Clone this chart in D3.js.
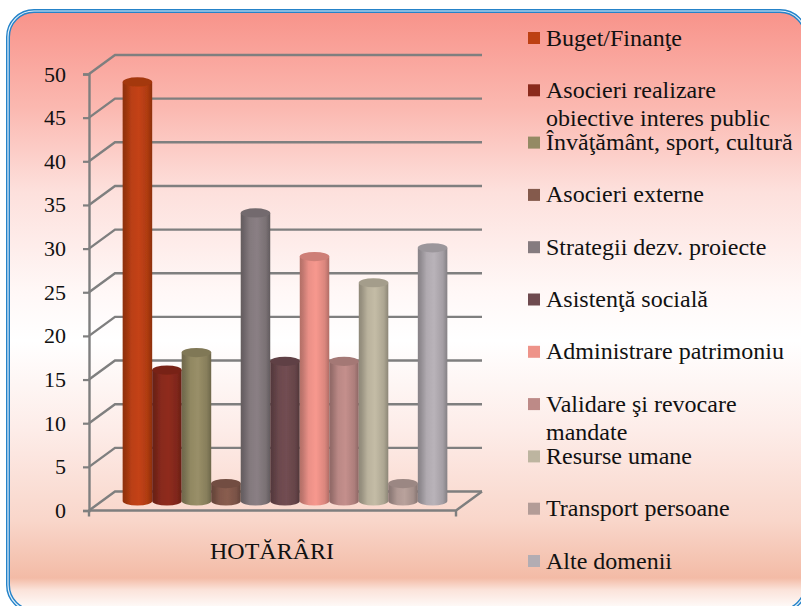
<!DOCTYPE html>
<html>
<head>
<meta charset="utf-8">
<script src="https://cdn.jsdelivr.net/npm/d3@7"></script>
<style>
  html, body { margin: 0; padding: 0; background: #fff; overflow: hidden; }
  text { font-family: "Liberation Serif", serif; fill: #111; }
</style>
</head>
<body>
<script>
// one category (HOTĂRÂRI), eleven domains
const domains = ["Buget/Finanţe", "Asocieri realizare obiective interes public", "Învăţământ, sport, cultură", "Asocieri externe", "Strategii dezv. proiecte", "Asistenţă socială", "Administrare patrimoniu", "Validare şi revocare mandate", "Resurse umane", "Transport persoane", "Alte domenii"];
const values = [48, 15, 17, 2, 33, 16, 28, 16, 25, 2, 29];
const colors = ["#bd4013", "#8a2a1c", "#948a64", "#845a4c", "#857b7f", "#6e4a4f", "#ee9389", "#bd8a87", "#bdb5a0", "#b39c97", "#b3adb3"];
const yTicks = [0, 5, 10, 15, 20, 25, 30, 35, 40, 45, 50];
const categoryLabel = "HOTĂRÂRI";

const width = 801, height = 606;
const depthX = 26, depthY = -19;
const gridColor = "#7f7f7f";

const svg = d3.select("body").append("svg")
  .attr("width", width)
  .attr("height", height)
  .style("display", "block");
const defs = svg.append("defs");

// background gradient of the frame
const bg = defs.append("linearGradient").attr("id", "bg")
  .attr("x1", 0).attr("y1", 0).attr("x2", 0).attr("y2", 1);
[[0, "#f8938a"], [0.16, "#fbb8b0"], [0.3, "#fde0dc"], [0.47, "#fff8f7"], [0.55, "#ffffff"], [0.7, "#fdece8"], [0.85, "#f9d6ca"], [0.945, "#f3bba6"], [0.965, "#fbe3da"], [1, "#ffffff"]]
  .forEach(s => bg.append("stop").attr("offset", s[0]).attr("stop-color", s[1]));

// slight softening, the reference is a scaled-up picture
defs.append("filter").attr("id", "soft").append("feGaussianBlur").attr("stdDeviation", 0.5);

// frame runs a little past the window on the right and bottom
svg.append("rect").attr("x", 8).attr("y", 11).attr("width", 798).attr("height", 600)
  .attr("rx", 26).attr("fill", "url(#bg)").attr("stroke", "#2583c9").attr("stroke-width", 4);
svg.append("rect").attr("x", 8).attr("y", 11).attr("width", 798).attr("height", 600)
  .attr("rx", 26).attr("fill", "none").attr("stroke", "#e4f1fa").attr("stroke-width", 1.2);

// scales
const y = d3.scaleLinear().domain([0, 50]).range([510.5, 74]);
const x = d3.scaleBand().domain(domains).range([102, 468]).paddingInner(0).paddingOuter(0.7);
const legendY = d3.scalePoint().domain(domains).range([38, 561]);

// walls
const grid = svg.append("g").attr("fill", "none").attr("stroke", gridColor).attr("stroke-width", 2.4).attr("filter", "url(#soft)");
grid.selectAll(".back").data(yTicks).enter().append("path")
  .attr("d", d => `M${89},${y(d)}L${89 + depthX},${y(d) + depthY}L${482},${y(d) + depthY}`);
grid.append("path").attr("d", `M89,${y(0)}H${482 - depthX}L482,${y(0) + depthY}`);
grid.append("path").attr("d", `M${482 - depthX},${y(0)}v6`);
grid.append("path").attr("d", `M89,${y(0)}v6`);

// value axis
const yAxis = d3.axisLeft(y).tickValues(yTicks).tickSize(6).tickPadding(17);
const axisG = svg.append("g").attr("transform", "translate(89,0)").call(yAxis);
axisG.selectAll("line").attr("stroke", gridColor).attr("stroke-width", 2.2);
axisG.select(".domain").attr("stroke", gridColor).attr("stroke-width", 2.4);
axisG.selectAll("text").style("font-family", '"Liberation Serif", serif').style("font-size", "22px").attr("fill", "#111");

// category label
svg.append("text").attr("x", 272).attr("y", 559).attr("text-anchor", "middle")
  .style("font-size", "24px").text(categoryLabel);

// cylinders
domains.forEach((d, i) => {
  const c = d3.color(colors[i]);
  const g = defs.append("linearGradient").attr("id", "bar" + i);
  [[0, c.darker(0.8)], [0.1, c.darker(0.6)], [0.3, c.darker(0.05)], [0.55, c.brighter(0.1)], [0.85, c.darker(0.25)], [1, c.darker(0.85)]]
    .forEach(s => g.append("stop").attr("offset", s[0]).attr("stop-color", s[1]));
});
const rx = x.bandwidth() / 2, ry = 4.6;
const bars = svg.append("g").attr("filter", "url(#soft)").selectAll("g").data(domains).enter().append("g");
bars.append("path")
  .attr("fill", (d, i) => `url(#bar${i})`)
  .attr("d", (d, i) => {
    const x0 = x(d), top = y(values[i]) + depthY / 2, base = y(0) + depthY / 2;
    return `M${x0},${top}V${base}A${rx},${ry} 0 0 0 ${x0 + 2 * rx},${base}V${top}Z`;
  });
bars.append("ellipse")
  .attr("cx", d => x(d) + rx)
  .attr("cy", (d, i) => y(values[i]) + depthY / 2)
  .attr("rx", rx).attr("ry", ry)
  .attr("fill", (d, i) => d3.color(colors[i]).darker(0.4));

// legend
const legend = svg.append("g").selectAll("g").data(domains).enter().append("g")
  .attr("transform", d => `translate(528,${legendY(d)})`);
legend.append("rect").attr("x", 0).attr("y", -6).attr("width", 12).attr("height", 12)
  .attr("fill", (d, i) => colors[i]);
const legendLines = { "Asocieri realizare obiective interes public": ["Asocieri realizare", "obiective interes public"], "Validare şi revocare mandate": ["Validare şi revocare", "mandate"] };
legend.append("text").attr("x", 18).attr("y", 7.5).style("font-size", "24px")
  .each(function (d) {
    const lines = legendLines[d] || [d];
    d3.select(this).selectAll("tspan").data(lines).enter().append("tspan")
      .attr("x", 18).attr("dy", (l, k) => k ? 28 : 0).text(l => l);
  });
</script>
</body>
</html>
